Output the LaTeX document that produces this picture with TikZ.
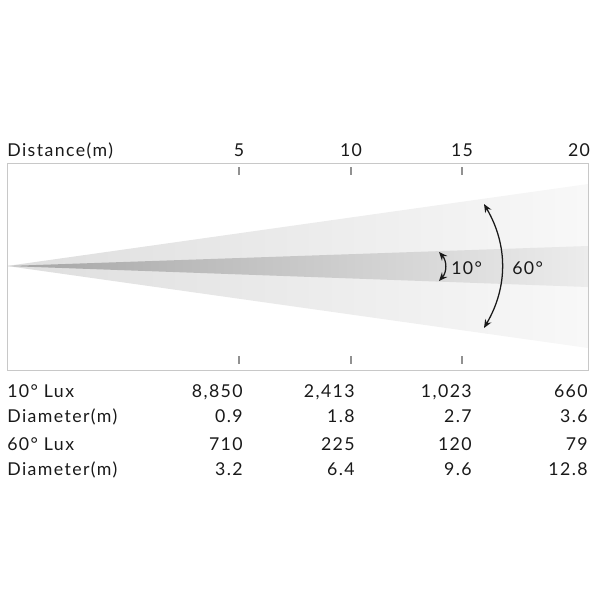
\documentclass[tikz,border=0pt]{standalone}
\usepackage{fontspec}
\setmainfont{Lato}[LetterSpace=8]
\usepackage{xcolor}
\usepackage{tikz}
\usetikzlibrary{arrows.meta,positioning,calc}
\definecolor{framegray}{RGB}{200,200,200}
\definecolor{tickgray}{RGB}{145,145,145}
\definecolor{txtblack}{RGB}{25,25,25}
\definecolor{wideL}{RGB}{222,222,222}
\definecolor{wideR}{RGB}{248,248,248}
\definecolor{narrowL}{RGB}{165,165,165}
\definecolor{narrowR}{RGB}{236,236,236}

\begin{document}
\begin{tikzpicture}[
  x=0.025cm, y=-0.025cm,
  font=\fontsize{12.6}{14}\selectfont,
  >=Stealth,
  every node/.style={inner sep=0pt, text=txtblack},
  frm/.style     = {draw=framegray, line width=0.6pt},
  tck/.style     = {draw=tickgray, line width=1.8pt},
  dist/.style    = {anchor=base},
  rowlbl/.style  = {anchor=base west},
  val/.style     = {anchor=base east},
  angarrow/.style= {<->, line width=0.9pt, txtblack,
                    >={Stealth[length=6pt,width=5pt]}},
  anglbl/.style  = {anchor=base west}
]
\useasboundingbox (0,0) rectangle (600,600);

%% ===== beam field =====
\coordinate (apex) at (7,266);
\shade[left color=wideL, right color=wideR]
  (apex) -- (588,184) -- (588,348) -- cycle;
\shade[left color=narrowL, right color=narrowR]
  (apex) -- (588,246) -- (588,287) -- cycle;
\draw[frm] (7,163) rectangle (588,370);

%% ===== distance scale =====
\node[rowlbl] (dlbl) at (7,156) {Distance(m)};
\foreach \d/\x in {5/239, 10/351, 15/462} {
  \node[dist] (d\d) at (\x,156) {\d};
  \draw[tck] (\x,167) -- (\x,175);
  \draw[tck] (\x,356) -- (\x,364);
}
\node[dist] (d20) at (579,156) {20};

%% ===== beam angles =====
\coordinate (n10top) at (439,252);
\coordinate (n10bot) at (439,281);
\draw[angarrow] (n10top) .. controls (447,261) and (447,272) .. (n10bot);
\node[anglbl] (a10) at (451,274) {10°};

\coordinate (w60top) at (484,204);
\coordinate (w60bot) at (484,328);
\draw[angarrow] (w60top) .. controls (508,245) and (508,287) .. (w60bot);
\node[anglbl] (a60) at (512,274) {60°};

%% ===== photometric table =====
\node[rowlbl] (r1) at (7,397) {10° Lux};
\node[rowlbl] (r2) at (7,422) {Diameter(m)};
\node[rowlbl] (r3) at (7,450) {60° Lux};
\node[rowlbl] (r4) at (7,475) {Diameter(m)};

\foreach \a/\b/\c/\d [count=\i] in {8{,}850/2{,}413/1{,}023/660,
                                     0.9/1.8/2.7/3.6,
                                     710/225/120/79,
                                     3.2/6.4/9.6/12.8} {
  \path (r\i.base) ++(0,0) coordinate (rb\i);
  \node[val] (v\i a) at (243,0 |- rb\i) {\a};
  \node[val] (v\i b) at (355,0 |- rb\i) {\b};
  \node[val] (v\i c) at (472,0 |- rb\i) {\c};
  \node[val] (v\i d) at (588,0 |- rb\i) {\d};
}

\end{tikzpicture}
\end{document}
